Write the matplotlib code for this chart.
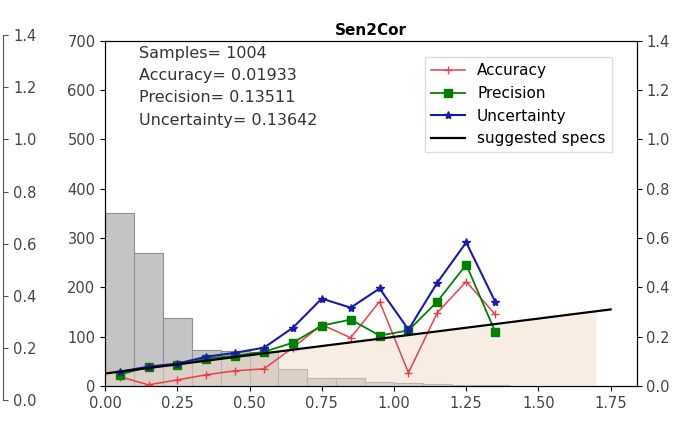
import numpy as np
import matplotlib
matplotlib.use('Agg')
import matplotlib.pyplot as plt

# bin centres of the error curves
bins = [0.05, 0.15, 0.25, 0.35, 0.45, 0.55, 0.65, 0.75, 0.85, 0.95, 1.05, 1.15, 1.25, 1.35]
accuracy = [0.037, 0.004, 0.024, 0.045, 0.061, 0.069, 0.155, 0.248, 0.195, 0.342, 0.053, 0.297, 0.423, 0.290]
precision = [0.045, 0.078, 0.085, 0.110, 0.122, 0.138, 0.175, 0.244, 0.269, 0.204, 0.225, 0.342, 0.492, 0.220]
uncertainty = [0.057, 0.078, 0.090, 0.118, 0.134, 0.155, 0.236, 0.354, 0.317, 0.395, 0.228, 0.419, 0.582, 0.342]

# sample histogram (left axis)
hist_left = [0.0, 0.1, 0.2, 0.3, 0.4, 0.5, 0.6, 0.7, 0.8, 0.9, 1.0, 1.1, 1.2, 1.3]
hist_counts = [350, 270, 138, 72, 70, 68, 35, 15, 15, 7, 5, 3, 2, 2]

# suggested specs line
spec_x = [0.0, 1.75]
spec_y = [0.05, 0.31]
fill_x = [0.0, 1.70]
fill_y = [0.05, 0.298]

stats = ["Samples= 1004", "Accuracy= 0.01933", "Precision= 0.13511", "Uncertainty= 0.13642"]

fig = plt.figure(figsize=(6.92, 4.34), dpi=100)

# leftover right axis of the neighbouring panel
ax0 = fig.add_axes([-0.4, 0.078, 0.405, 0.841])
ax0.set_ylim(0, 1.4)
ax0.set_xticks([])
for s in ['left', 'top', 'bottom']:
    ax0.spines[s].set_visible(False)
ax0.yaxis.tick_right()
ax0.set_yticks(np.arange(0, 1.41, 0.2))
ax0.tick_params(axis='y', labelsize=10.5, colors='#555555', labelcolor='#444444')
ax0.spines['right'].set_color('#555555')
ax0.patch.set_alpha(0)

ax1 = fig.add_axes([0.152, 0.111, 0.768, 0.795])
ax1.bar(hist_left, hist_counts, width=0.1, align='edge', color='#c4c4c4',
        edgecolor='#909090', linewidth=0.8)
ax1.set_ylim(0, 700)
ax1.set_xlim(0, 1.84)
ax1.set_xticks([0, 0.25, 0.5, 0.75, 1.0, 1.25, 1.5, 1.75])
ax1.tick_params(labelsize=10.5, labelcolor='#444444')

ax2 = ax1.twinx()
ax2.fill_between(fill_x, 0, fill_y, color='#f0dcc8', alpha=0.5, linewidth=0)
ax2.plot(bins, accuracy, color='#e8404a', marker='+', markersize=6, linewidth=1.1, label='Accuracy')
ax2.plot(bins, precision, color='green', marker='s', markersize=6, linewidth=1.3, label='Precision')
ax2.plot(bins, uncertainty, color='#1a1ab0', marker='*', markersize=6, linewidth=1.5, label='Uncertainty')
ax2.plot(spec_x, spec_y, color='black', linewidth=1.6, label='suggested specs')
ax2.set_ylim(0, 1.4)
ax2.set_yticks(np.arange(0, 1.41, 0.2))
ax2.tick_params(labelsize=10.5, labelcolor='#444444')

ax1.set_title('Sen2Cor', fontsize=11, fontweight='bold', pad=4)

ax1.text(0.063, 0.985, "\n".join(stats), transform=ax1.transAxes, va='top', ha='left',
         fontsize=11.5, color='#333333', linespacing=1.6)

ax2.legend(loc='upper right', bbox_to_anchor=(0.953, 0.952), borderaxespad=0,
           fontsize=11, handlelength=2.2, labelspacing=0.5, framealpha=1,
           edgecolor='#dddddd', fancybox=False)

fig.savefig('out.png', dpi=100)
